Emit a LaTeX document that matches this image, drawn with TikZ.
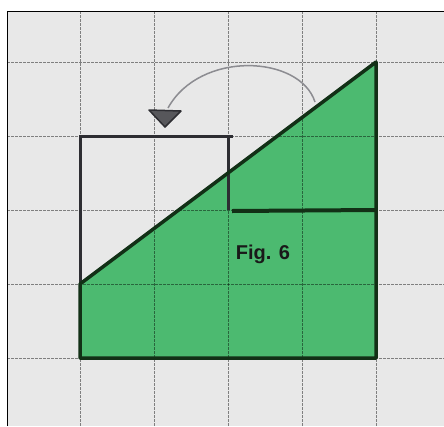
\documentclass[tikz,border=0pt]{standalone}
\usepackage{fontspec}
\setmainfont{Liberation Sans}
\definecolor{paper}{RGB}{232,232,232}
\definecolor{figgreen}{RGB}{76,186,112}
\definecolor{edgegreen}{RGB}{18,48,22}
\definecolor{pencil}{RGB}{45,45,50}
\definecolor{arcgrey}{RGB}{140,140,145}
\tikzset{
  gridline/.style={draw=black, draw opacity=0.45, line width=1pt, dash pattern=on 3pt off 1pt},
  pencilline/.style={draw=pencil, line width=3pt},
  figedge/.style={draw=edgegreen, line width=3.5pt, line join=round},
}
\begin{document}
\begin{tikzpicture}[x=1pt,y=-1pt]
\useasboundingbox (0,0) rectangle (444,426);
\fill[white] (0,0) rectangle (444,426);
\fill[paper] (7,11) rectangle (444,426);
\draw[black, line width=1pt] (7,426) -- (7,11) -- (444,11);
% green figure
\fill[figgreen] (80,358) -- (376,358) -- (376,62) -- (80,284) -- cycle;
% grid
\foreach \gx in {80,154,228,302,376} { \draw[gridline] (\gx,11) -- (\gx,426); }
\foreach \gy in {62,136,210,284,358} { \draw[gridline] (7,\gy) -- (444,\gy); }
% pencil square
\draw[pencilline] (80,284) -- (80,136) -- (233,136);
\draw[pencilline] (228,136) -- (228,210);
% figure outline
\draw[figedge] (80,358) -- (376,358) -- (376,62) -- (80,284) -- cycle;
\draw[edgegreen, line width=4pt] (232,211) -- (376,210);
% rotation arrow
\draw[arcgrey, line width=1.5pt] (315,102) .. controls (300,55) and (200,50) .. (168,108);
\filldraw[draw=pencil, fill=pencil!80!white, line width=1.5pt, line join=round] (149,110) -- (181,111) -- (165,127) -- cycle;
% label
\node[font=\bfseries\fontsize{20}{24}\selectfont, text=black!90] (lbl) at (263,254) {Fig. 6};
\end{tikzpicture}
\end{document}
